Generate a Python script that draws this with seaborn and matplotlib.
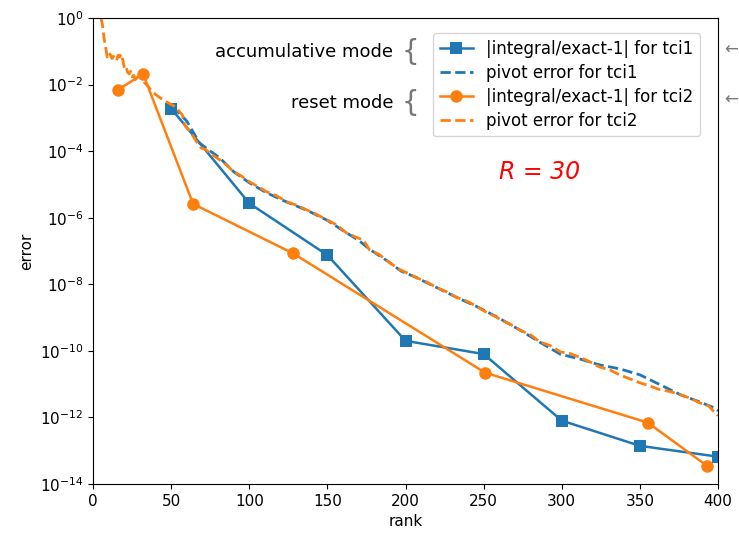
import numpy as np
import pandas as pd
import seaborn as sns
import matplotlib.pyplot as plt

# |integral/exact-1| values
tci1_rank = [50, 100, 150, 200, 250, 300, 350, 400]
tci1_err = [1.9e-3, 2.7e-6, 7.5e-8, 2.0e-10, 8.0e-11, 8.0e-13, 1.4e-13, 6.6e-14]

tci2_rank = [16, 32, 64, 128, 251, 355, 393]
tci2_err = [7.0e-3, 2.1e-2, 2.6e-6, 8.5e-8, 2.2e-11, 7.0e-13, 3.5e-14]

# pivot error (log10 values)
piv1_rank = [50, 55, 60, 68, 75, 81, 90, 100, 111, 124, 137, 150, 162, 170, 177,
             190, 197, 207, 220, 233, 246, 258, 261, 273, 286, 299, 312, 324,
             337, 350, 363, 376, 388, 397, 400]
piv1_log = [-2.70, -2.85, -3.10, -3.75, -4.00, -4.20, -4.62, -4.95, -5.25, -5.53,
            -5.78, -6.08, -6.45, -6.68, -6.95, -7.35, -7.60, -7.80, -8.10, -8.40,
            -8.68, -8.97, -9.05, -9.37, -9.74, -10.10, -10.25, -10.42, -10.54,
            -10.72, -11.02, -11.32, -11.53, -11.70, -11.80]

piv2_rank = [5, 6, 7, 8, 9, 10, 11, 12, 13, 14, 15, 16, 17, 18, 19, 20, 21, 22, 23,
             24, 25, 26, 27, 28, 29, 30, 31, 33, 35, 37, 40, 43, 47, 50, 53, 55,
             57, 59, 62, 66, 69, 72, 76, 81, 85, 90, 95, 100, 105, 111, 117, 124,
             130, 137, 143, 150, 156, 162, 169, 173, 177, 183, 190, 196, 202, 207,
             213, 220, 226, 233, 240, 246, 252, 258, 261, 267, 273, 280, 286, 293,
             299, 305, 312, 318, 324, 331, 337, 343, 350, 356, 363, 369, 376, 382,
             388, 394, 398, 400]
piv2_log = [0.00, -0.20, -0.60, -0.87, -1.17, -1.05, -1.10, -1.22, -1.15, -1.20,
            -1.28, -1.12, -1.17, -1.08, -1.26, -1.50, -1.45, -1.62, -1.68, -1.60,
            -1.77, -1.72, -1.85, -1.80, -1.86, -1.65, -1.75, -1.95, -2.05, -2.16,
            -2.30, -2.40, -2.52, -2.60, -2.67, -2.80, -2.90, -3.25, -3.40, -3.70,
            -3.90, -3.95, -4.10, -4.26, -4.40, -4.62, -4.75, -4.92, -5.05, -5.22,
            -5.33, -5.52, -5.62, -5.77, -5.90, -6.07, -6.22, -6.45, -6.60, -6.67,
            -6.97, -7.10, -7.36, -7.55, -7.68, -7.80, -7.92, -8.10, -8.22, -8.40,
            -8.52, -8.68, -8.85, -8.98, -9.07, -9.20, -9.37, -9.52, -9.73, -9.85,
            -10.03, -10.08, -10.20, -10.33, -10.48, -10.58, -10.72, -10.83, -10.96,
            -11.05, -11.17, -11.22, -11.32, -11.42, -11.56, -11.65, -11.86, -11.95]

blue = "#1f77b4"
orange = "#ff7f0e"

fig = plt.figure(figsize=(7.39, 5.41), dpi=100)
ax = fig.add_axes([0.126, 0.1054, 0.8456, 0.8613])

sns.lineplot(x=tci1_rank, y=tci1_err, ax=ax, color=blue, marker="s", markersize=9,
             markeredgewidth=0, linewidth=1.8, label="|integral/exact-1| for tci1")
sns.lineplot(x=piv1_rank, y=10.0 ** np.array(piv1_log), ax=ax, color=blue,
             linestyle="--", linewidth=2, label="pivot error for tci1")
sns.lineplot(x=tci2_rank, y=tci2_err, ax=ax, color=orange, marker="o", markersize=9,
             markeredgewidth=0, linewidth=1.8, label="|integral/exact-1| for tci2")
sns.lineplot(x=piv2_rank, y=10.0 ** np.array(piv2_log), ax=ax, color=orange,
             linestyle="--", linewidth=2, label="pivot error for tci2")

ax.set_yscale("log")
ax.set_xlim(0, 400)
ax.set_ylim(1e-14, 1)
ax.set_yticks([10.0 ** k for k in range(-14, 1, 2)])
ax.minorticks_off()
ax.tick_params(labelsize=11)
ax.set_xlabel("rank", fontsize=11)
ax.set_ylabel("error", fontsize=11)
ax.legend(loc="upper right", fontsize=12, bbox_to_anchor=(0.985, 0.985),
          labelspacing=0.35)

# notes
ax.text(0.48, 0.927, "accumulative mode", transform=ax.transAxes, ha="right",
        va="center", fontsize=13)
ax.text(0.48, 0.818, "reset mode", transform=ax.transAxes, ha="right",
        va="center", fontsize=13)
for yy in [0.927, 0.818]:
    ax.text(0.507, yy, "{", transform=ax.transAxes, ha="center", va="center",
            fontsize=20, color="#777777")
    fig.text(0.999, yy * 0.8613 + 0.1054 + 0.005, "←", ha="right", va="center",
             fontsize=12, color="#777777")
ax.text(0.715, 0.67, "R = 30", transform=ax.transAxes, ha="center", va="center",
        fontsize=17, color="red", style="italic")

fig.savefig("out.png", dpi=100)
